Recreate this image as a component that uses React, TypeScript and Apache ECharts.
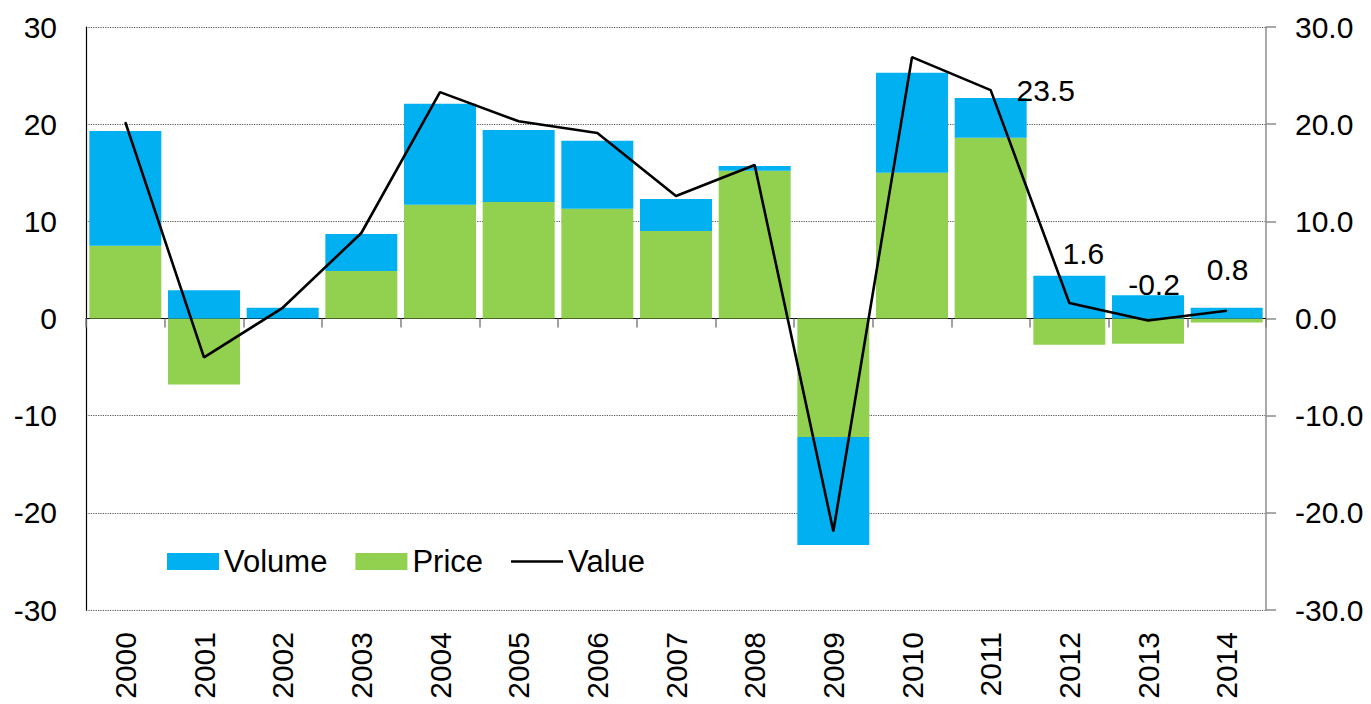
import React, { useEffect, useRef } from "react";
import * as echarts from "echarts";

const years = ["2000", "2001", "2002", "2003", "2004", "2005", "2006", "2007", "2008", "2009", "2010", "2011", "2012", "2013", "2014"];
const priceValues = [7.5, -6.8, 0.0, 4.9, 11.7, 12.0, 11.3, 9.0, 15.2, -12.2, 15.0, 18.6, -2.7, -2.6, -0.4];
const volumeValues = [11.8, 2.9, 1.1, 3.8, 10.4, 7.4, 7.0, 3.3, 0.5, -11.1, 10.3, 4.1, 4.4, 2.4, 1.1];
const valueValues = [20.2, -4.0, 1.1, 8.8, 23.3, 20.3, 19.1, 12.6, 15.8, -21.9, 26.9, 23.5, 1.6, -0.2, 0.8];
const labelledYears = ["2011", "2012", "2013", "2014"];

// label placement (styles, kept apart from the data)
const labelOffsets: Record<string, [number, number]> = {
  "2011": [55, 0],
  "2012": [14, -49],
  "2013": [6, -36],
  "2014": [1, -41],
};

const FONT = "'Liberation Sans', Arial, Helvetica, sans-serif";
const FS = 30;

export default function App() {
  const ref = useRef<HTMLDivElement>(null);

  useEffect(() => {
    if (!ref.current) return;
    const chart = echarts.init(ref.current, undefined, { renderer: "svg" });

    const lineData = valueValues.map((v, i) => {
      const y = years[i];
      if (labelledYears.includes(y)) {
        return {
          value: v,
          label: {
            show: true,
            position: "inside",
            offset: labelOffsets[y],
            formatter: (p: any) => Number(p.value).toFixed(1),
            fontSize: FS,
            color: "#000",
            fontFamily: FONT,
          },
        };
      }
      return { value: v };
    });

    chart.setOption({
      animation: false,
      backgroundColor: "#fff",
      textStyle: { fontFamily: FONT },
      grid: { left: 86, right: 105, top: 27, bottom: 94, containLabel: false },
      legend: {
        left: 162,
        top: 541,
        itemWidth: 52,
        itemHeight: 17,
        itemGap: 28,
        textStyle: { fontSize: 31, color: "#000", fontFamily: FONT },
        data: [
          { name: "Volume", icon: "rect" },
          { name: "Price", icon: "rect" },
          { name: "Value", icon: "path://M0,0H52V2.6H0Z" },
        ],
      },
      xAxis: [
        {
          type: "category",
          data: years,
          position: "bottom",
          axisLine: { show: false, onZero: false },
          axisTick: { show: false },
          axisLabel: {
            rotate: 90,
            fontSize: FS,
            color: "#000",
            margin: 22,
            interval: 0,
            fontFamily: FONT,
          },
          splitLine: { show: false },
        },
        {
          type: "category",
          data: years,
          position: "bottom",
          axisLine: { show: true, onZero: true, lineStyle: { color: "#000", width: 1.2 } },
          axisTick: { show: true, length: 9, lineStyle: { color: "#808080", width: 1.5 } },
          axisLabel: { show: false },
          splitLine: { show: false },
        },
      ],
      yAxis: [
        {
          type: "value",
          min: -30,
          max: 30,
          interval: 10,
          position: "left",
          axisLine: { show: true, onZero: false, lineStyle: { color: "#000", width: 1.2 } },
          axisTick: { show: false },
          axisLabel: { fontSize: FS, color: "#000", margin: 29, fontFamily: FONT },
          splitLine: { show: true, lineStyle: { type: "dotted", color: "#555", width: 1.2 } },
        },
        {
          type: "value",
          min: -30,
          max: 30,
          interval: 10,
          position: "right",
          axisLine: { show: true, onZero: false, lineStyle: { color: "#8c8c8c", width: 1.5 } },
          axisTick: { show: true, length: 10, lineStyle: { color: "#8c8c8c", width: 1.5 } },
          axisLabel: {
            fontSize: FS,
            color: "#000",
            margin: 29,
            fontFamily: FONT,
            formatter: (v: number) => v.toFixed(1),
          },
          splitLine: { show: false },
        },
      ],
      series: [
        {
          name: "Price",
          type: "bar",
          stack: "total",
          xAxisIndex: 0,
          yAxisIndex: 0,
          barCategoryGap: "8.5%",
          itemStyle: { color: "#92D050" },
          data: priceValues,
        },
        {
          name: "Volume",
          type: "bar",
          stack: "total",
          xAxisIndex: 0,
          yAxisIndex: 0,
          barCategoryGap: "8.5%",
          itemStyle: { color: "#00B0F0" },
          data: volumeValues,
        },
        {
          name: "Value",
          type: "line",
          xAxisIndex: 0,
          yAxisIndex: 1,
          symbol: "circle",
          symbolSize: 1,
          showSymbol: true,
          z: 5,
          itemStyle: { color: "#000" },
          lineStyle: { color: "#000", width: 2.6 },
          data: lineData,
        },
      ],
    });

    return () => chart.dispose();
  }, []);

  return (
    <div
      ref={ref}
      style={{ position: "fixed", left: 0, top: 0, width: 1371, height: 704, background: "#fff" }}
    />
  );
}
